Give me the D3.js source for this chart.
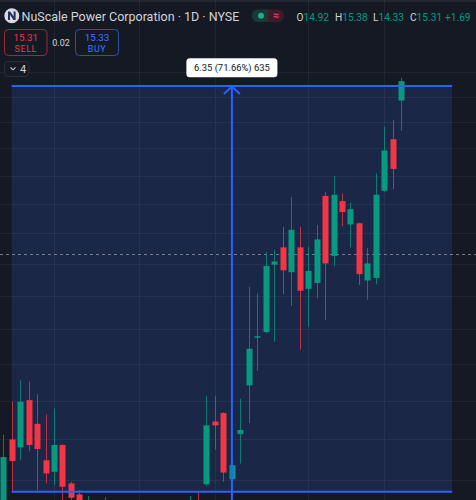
<!DOCTYPE html>
<html><head><meta charset="utf-8">
<script src="https://cdn.jsdelivr.net/npm/d3@7"></script>
<style>
html,body{margin:0;padding:0;background:#151924;overflow:hidden;}
svg{display:block;}
text{font-family:Roboto,"Noto Sans",sans-serif;}
</style></head><body>
<svg id="c" width="476" height="500"></svg>
<script>
// ---- data (daily bars, NuScale Power, NYSE) ----
const opens  = [8.60, 9.50, 9.40, 10.01, 9.70, 9.24, 9.10, 9.43, 8.96, 8.83, 8.40, 8.62, 8.45, 8.66, 8.48, 8.55, 8.40, 8.22, 8.38, 8.50, 8.36, 8.52, 8.62, 8.74, 8.95, 9.73, 9.84, 9.01, 9.57, 10.21, 10.88, 10.96, 11.99, 12.27, 11.87, 12.27, 11.61, 11.70, 13.14, 12.13, 13.05, 12.65, 12.67, 11.74, 11.78, 13.23, 14.17, 14.92];
const highs  = [9.56, 9.99, 10.28, 10.26, 10.09, 9.82, 9.90, 9.44, 8.98, 8.88, 8.81, 8.72, 8.80, 8.70, 8.62, 8.68, 8.52, 8.45, 8.60, 8.66, 8.58, 8.70, 8.81, 8.86, 10.07, 10.07, 9.85, 9.25, 10.03, 11.64, 11.54, 12.19, 12.23, 12.61, 13.12, 12.61, 12.28, 12.64, 13.21, 13.49, 13.18, 13.02, 12.68, 12.26, 13.54, 14.41, 14.54, 15.38];
const lows   = [8.50, 8.86, 9.24, 9.35, 8.88, 8.96, 8.94, 8.70, 8.70, 8.48, 8.35, 8.40, 8.38, 8.40, 8.30, 8.35, 8.15, 8.10, 8.28, 8.32, 8.25, 8.40, 8.50, 8.55, 8.93, 9.37, 8.98, 8.80, 9.20, 9.71, 10.41, 10.94, 10.82, 11.53, 11.35, 10.71, 11.04, 11.46, 11.14, 11.96, 12.62, 12.27, 11.67, 11.44, 11.68, 13.21, 13.26, 14.33];
const closes = [9.28, 9.23, 9.99, 9.43, 9.38, 9.08, 9.43, 8.92, 8.79, 8.60, 8.62, 8.45, 8.66, 8.48, 8.55, 8.40, 8.22, 8.38, 8.50, 8.36, 8.52, 8.62, 8.74, 8.66, 9.68, 9.68, 9.09, 9.18, 9.62, 10.72, 10.90, 11.97, 12.04, 11.90, 12.56, 11.58, 11.89, 12.40, 12.01, 13.16, 12.86, 12.91, 11.84, 12.01, 13.16, 13.96, 13.62, 15.31];
const priceGrid = [9, 9.5, 10, 10.5, 11, 11.5, 12, 12.5, 13, 13.5, 14, 14.5, 15, 15.5];
const timeGridBars = [6, 16, 25, 36, 45];
const measureFrom = 8.8613, measureTo = 15.2113;   // price range of the measure tool
const measureBars = [1, 53];                          // bar range of the measure tool
const measureLabel = "6.35 (71.66%) 635";
const crossPrice = 12.155;
const title = "NuScale Power Corporation · 1D · NYSE";
const ohlcLabels = ["O", "H", "L", "C"];
const ohlcValues = ["14.92", "15.38", "14.33", "15.31"];
const change = "+1.69";
const sellPrice = "15.31", buyPrice = "15.33", spread = "0.02", layoutCount = "4";

const W = 476, H = 500;
const svg = d3.select("#c");
const bg = "#151924", up = "#089981", dn = "#f23645", blue = "#2962ff";

const x = d3.scaleLinear().domain([0, 47]).range([3.2, 401.3]);
const y = d3.scaleLog().domain([measureFrom, measureTo]).range([491.7, 86]);

function fit(sel, target) {
  const fs = +sel.attr("font-size");
  const w = sel.node().getComputedTextLength();
  if (w > 0) sel.attr("font-size", fs * target / w);
  return +sel.attr("font-size");
}

svg.append("rect").attr("width", W).attr("height", H).attr("fill", bg);
svg.append("rect").attr("width", W).attr("height", 2).attr("fill", "#222631");

// measure shading
const mx0 = x(measureBars[0]), mx1 = x(measureBars[1]);
svg.append("rect").attr("x", mx0).attr("y", y(measureTo)).attr("width", mx1 - mx0)
  .attr("height", y(measureFrom) - y(measureTo)).attr("fill", "#1b2747");

// grid
const g = svg.append("g").attr("stroke", "rgba(140,150,180,0.10)").attr("stroke-width", 1);
g.selectAll("line.h").data(priceGrid).join("line").attr("class", "h")
  .attr("x1", 0).attr("x2", W).attr("y1", d => Math.round(y(d)) + 0.5).attr("y2", d => Math.round(y(d)) + 0.5);
g.selectAll("line.v").data(timeGridBars).join("line").attr("class", "v")
  .attr("y1", 0).attr("y2", H).attr("x1", d => Math.round(x(d)) + 0.5).attr("x2", d => Math.round(x(d)) + 0.5);

// dashed price line
svg.append("line").attr("x1", 0).attr("x2", W).attr("y1", Math.round(y(crossPrice)) + 0.5).attr("y2", Math.round(y(crossPrice)) + 0.5)
  .attr("stroke", "#787b86").attr("stroke-width", 1).attr("stroke-dasharray", "3,3");

// candles
const data = opens.map((o, i) => ({i, o, h: highs[i], l: lows[i], c: closes[i]}));
const cg = svg.append("g");
const bw = 6;
cg.selectAll("line.w").data(data).join("line").attr("class", "w")
  .attr("x1", d => Math.round(x(d.i)) + 0.5).attr("x2", d => Math.round(x(d.i)) + 0.5)
  .attr("y1", d => y(d.h)).attr("y2", d => y(d.l))
  .attr("stroke", d => d.c >= d.o ? up : dn).attr("stroke-opacity", 0.75).attr("stroke-width", 1);
cg.selectAll("rect.b").data(data).join("rect").attr("class", "b")
  .attr("x", d => Math.round(x(d.i)) + 0.5 - bw / 2).attr("width", bw)
  .attr("y", d => y(Math.max(d.o, d.c)))
  .attr("height", d => Math.max(1.5, y(Math.min(d.o, d.c)) - y(Math.max(d.o, d.c))))
  .attr("fill", d => d.c >= d.o ? up : dn);

// measure lines
const yTop = y(measureTo), yBot = y(measureFrom);
svg.append("line").attr("x1", mx0).attr("x2", mx1).attr("y1", yTop).attr("y2", yTop).attr("stroke", blue).attr("stroke-width", 2);
svg.append("line").attr("x1", mx0).attr("x2", mx1).attr("y1", yBot).attr("y2", yBot).attr("stroke", blue).attr("stroke-width", 2);
const ax = x((measureBars[0] + measureBars[1]) / 2);
svg.append("line").attr("x1", ax).attr("x2", ax).attr("y1", yTop).attr("y2", H).attr("stroke", blue).attr("stroke-width", 2);
svg.append("path").attr("d", `M${ax - 8},${yTop + 8}L${ax},${yTop + 0.5}L${ax + 8},${yTop + 8}`)
  .attr("fill", "none").attr("stroke", blue).attr("stroke-width", 2);

// measure label
const lw = 91, lh = 19;
svg.append("rect").attr("x", ax - lw / 2).attr("y", yTop - 27.7).attr("width", lw).attr("height", lh).attr("rx", 3.5).attr("fill", "#ffffff");
const ml = svg.append("text").attr("x", ax).attr("y", yTop - 14.6).attr("text-anchor", "middle").attr("font-size", 10.5)
  .attr("fill", "#131722").text(measureLabel);
fit(ml, 76);

// ---- header ----
svg.append("circle").attr("cx", 11.8).attr("cy", 15.8).attr("r", 7.5).attr("fill", "#d8dbe4");
svg.append("path").attr("d", "M8,20 L8,11.5 L10.2,11.5 L13.6,16.6 L13.6,11.5 L15.6,11.5 L15.6,20 L13.5,20 L10,14.8 L10,20 Z").attr("fill", "#24305e");
const tt = svg.append("text").attr("x", 21.5).attr("y", 20.8).attr("font-size", 14).attr("fill", "#d1d4dc").text(title);
fit(tt, 218);

// status pill
svg.append("rect").attr("x", 252).attr("y", 9.5).attr("width", 32).attr("height", 12.5).attr("rx", 6).attr("fill", "#3a1c2b");
svg.append("path").attr("d", "M258,9.5 H268 V22 H258 A6.25,6.25 0 0 1 258,9.5 Z").attr("fill", "#173a35");
svg.append("circle").attr("cx", 261).attr("cy", 15.7).attr("r", 3).attr("fill", "#22ab94");
svg.append("text").attr("x", 276).attr("y", 19.3).attr("text-anchor", "middle").attr("font-size", 11).attr("font-weight", "bold").attr("fill", "#e0406e").text("≈");

// OHLC
const ohlcX = [296.5, 335, 373, 410];
let ofs = 12;
ohlcLabels.forEach((lab, k) => {
  const t = svg.append("text").attr("x", ohlcX[k]).attr("y", 20.8).attr("font-size", 12);
  t.append("tspan").attr("fill", "#d1d4dc").text(lab);
  t.append("tspan").attr("fill", up).text(ohlcValues[k]);
  if (k === 0) ofs = fit(t, 32.5); else t.attr("font-size", ofs);
});
svg.append("text").attr("x", 445).attr("y", 20.8).attr("font-size", ofs).attr("fill", up).text(change);

// SELL / BUY
function tradeBox(x0, w, color, price, label) {
  svg.append("rect").attr("x", x0 + 0.5).attr("y", 29.5).attr("width", w).attr("height", 26).attr("rx", 4)
    .attr("fill", "none").attr("stroke", color).attr("stroke-opacity", 0.6);
  const p = svg.append("text").attr("x", x0 + w / 2 + 0.5).attr("y", 41).attr("text-anchor", "middle").attr("font-size", 10.5).attr("fill", color).text(price);
  fit(p, 24.5);
  svg.append("text").attr("x", x0 + w / 2 + 0.5).attr("y", 52).attr("text-anchor", "middle").attr("font-size", 9).attr("letter-spacing", 0.6).attr("fill", color).text(label);
}
tradeBox(4, 42.5, dn, sellPrice, "SELL");
tradeBox(75, 43, "#3b78ff", buyPrice, "BUY");
svg.append("text").attr("x", 61).attr("y", 45.8).attr("text-anchor", "middle").attr("font-size", 9).attr("fill", "#d1d4dc").text(spread);

// layout count
svg.append("rect").attr("x", 4.5).attr("y", 61.5).attr("width", 24.5).attr("height", 15).attr("rx", 3).attr("fill", "#161a25").attr("stroke", "#2a2e39");
svg.append("path").attr("d", "M10.5,67.3 L13,69.8 L15.5,67.3").attr("fill", "none").attr("stroke", "#d1d4dc").attr("stroke-width", 1.1);
svg.append("text").attr("x", 20).attr("y", 73.3).attr("font-size", 11).attr("fill", "#d1d4dc").text(layoutCount);
</script>
</body></html>
